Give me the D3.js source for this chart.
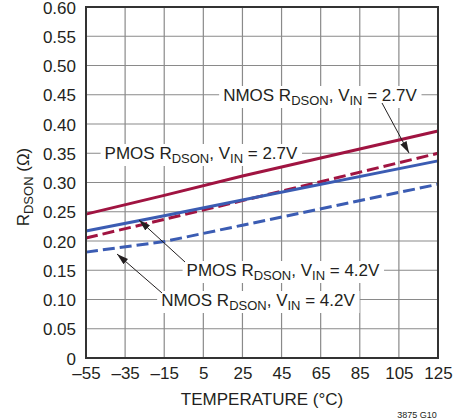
<!DOCTYPE html>
<html>
<head>
<meta charset="utf-8">
<script src="https://cdn.jsdelivr.net/npm/d3@7"></script>
<style>
  body { margin: 0; background: #fff; }
  svg text { font-family: "Liberation Sans", Arial, sans-serif; fill: #231f20; }
</style>
</head>
<body>
<svg id="chart" width="466" height="419"></svg>
<script>
// temperature ticks (deg C) and resistance ticks (ohm)
let xTicks = [-55, -35, -15, 5, 25, 45, 65, 85, 105, 125];
let yTicks = [0, 0.05, 0.1, 0.15, 0.2, 0.25, 0.3, 0.35, 0.4, 0.45, 0.5, 0.55, 0.6];

// series
let temps = [-55, -15, 25, 125];
let pmos27 = [0.246, 0.278, 0.311, 0.388];
let nmos27 = [0.205, 0.237, 0.269, 0.350];
let pmos42 = [0.217, 0.243, 0.270, 0.337];
let nmos42 = [0.181, 0.199, 0.227, 0.297];

const red = '#a01441', blue = '#3b5cb3';

let svg = d3.select('#chart');
let margin = {top: 7, left: 86, right: 28, bottom: 61};
let width = 466, height = 419;

let x = d3.scaleLinear().domain([-55, 125]).range([margin.left, width - margin.right]);
let y = d3.scaleLinear().domain([0, 0.6]).range([height - margin.bottom, margin.top]);

// grid
let grid = svg.append('g');
grid.selectAll('.vx')
    .data(xTicks.slice(1, -1))
    .join('line')
    .attr('x1', d => x(d)).attr('x2', d => x(d))
    .attr('y1', y(0)).attr('y2', y(0.6))
    .attr('stroke', '#8a8a8a').attr('stroke-width', 1.2);
grid.selectAll('.hy')
    .data(yTicks.slice(1, -1))
    .join('line')
    .attr('y1', d => y(d)).attr('y2', d => y(d))
    .attr('x1', x(-55)).attr('x2', x(125))
    .attr('stroke', '#8a8a8a').attr('stroke-width', 1.2);

// axes (labels only)
let xAxis = d3.axisBottom(x).tickValues(xTicks).tickSize(0).tickPadding(9)
    .tickFormat(d => d < 0 ? '\u2013' + Math.abs(d) : d);
let gx = svg.append('g').attr('transform', `translate(0,${y(0)})`).call(xAxis);
let yAxis = d3.axisLeft(y).tickValues(yTicks).tickSize(0).tickPadding(10)
    .tickFormat(d => d === 0 ? '0' : d3.format('.2f')(d));
let gy = svg.append('g').attr('transform', `translate(${x(-55)},0)`).call(yAxis);
[gx, gy].forEach(g => {
    g.select('.domain').remove();
    g.selectAll('text').attr('font-size', 17).attr('font-family', null).attr('fill', '#231f20');
});
gx.selectAll('text').attr('dy', '0.72em');
gy.selectAll('text').attr('dy', '0.36em');

// callout labels sit on white boxes over the grid, under the curves
let notes = [
    {dev: 'NMOS', vin: '2.7V', cx: 320, cy: 95, ax: [382, 103, 409, 153]},
    {dev: 'PMOS', vin: '2.7V', cx: 201, cy: 153, ax: null},
    {dev: 'PMOS', vin: '4.2V', cx: 283, cy: 270, ax: [185, 262, 139, 220]},
    {dev: 'NMOS', vin: '4.2V', cx: 258, cy: 300, ax: [162, 293, 117, 254]}
];
let noteLayer = svg.append('g');

// data lines
let line = d3.line().x((d, i) => x(temps[i])).y(d => y(d));
let series = [
    {v: pmos27, c: red, dash: null},
    {v: nmos27, c: red, dash: '12,5'},
    {v: pmos42, c: blue, dash: null},
    {v: nmos42, c: blue, dash: '12,5'}
];
svg.selectAll('.series')
    .data(series)
    .join('path')
    .attr('d', d => line(d.v))
    .attr('fill', 'none')
    .attr('stroke', d => d.c)
    .attr('stroke-width', 3)
    .attr('stroke-dasharray', d => d.dash);

// frame
svg.append('rect')
    .attr('x', x(-55)).attr('y', y(0.6))
    .attr('width', x(125) - x(-55)).attr('height', y(0) - y(0.6))
    .attr('fill', 'none').attr('stroke', '#333').attr('stroke-width', 2);

// axis titles
svg.append('text')
    .attr('x', 262).attr('y', 405)
    .attr('text-anchor', 'middle').attr('font-size', 17)
    .text('TEMPERATURE (\u00B0C)');

let yt = svg.append('text')
    .attr('transform', 'translate(29,187) rotate(-90)')
    .attr('text-anchor', 'middle').attr('font-size', 17);
yt.append('tspan').text('R');
yt.append('tspan').attr('font-size', 13).attr('dy', 4).text('DSON');
yt.append('tspan').attr('dy', -4).text(' (\u03A9)');

svg.append('text')
    .attr('x', 417).attr('y', 418)
    .attr('text-anchor', 'middle').attr('font-size', 9)
    .text('3875 G10');

// arrowhead
svg.append('defs').append('marker')
    .attr('id', 'arr').attr('viewBox', '0 0 10 6')
    .attr('refX', 10).attr('refY', 3)
    .attr('markerWidth', 12).attr('markerHeight', 7)
    .attr('markerUnits', 'userSpaceOnUse')
    .attr('orient', 'auto')
    .append('path').attr('d', 'M0,0L10,3L0,6Z').attr('fill', '#231f20');

notes.forEach(n => {
    let g = noteLayer.append('g');
    let bg = g.append('rect').attr('fill', '#fff');
    let t = g.append('text')
        .attr('x', n.cx).attr('y', n.cy + 6)
        .attr('text-anchor', 'middle').attr('font-size', 17);
    t.append('tspan').text(n.dev + ' R');
    t.append('tspan').attr('font-size', 13).attr('dy', 4).text('DSON');
    t.append('tspan').attr('dy', -4).text(', V');
    t.append('tspan').attr('font-size', 13).attr('dy', 4).text('IN');
    t.append('tspan').attr('dy', -4).text(' = ' + n.vin);
    let b = t.node().getBBox();
    bg.attr('x', b.x - 4).attr('y', b.y)
        .attr('width', b.width + 8).attr('height', b.height);
    if (n.ax) {
        svg.append('line')
            .attr('x1', n.ax[0]).attr('y1', n.ax[1])
            .attr('x2', n.ax[2]).attr('y2', n.ax[3])
            .attr('stroke', '#231f20').attr('stroke-width', 1)
            .attr('marker-end', 'url(#arr)');
    }
});
</script>
</body>
</html>
